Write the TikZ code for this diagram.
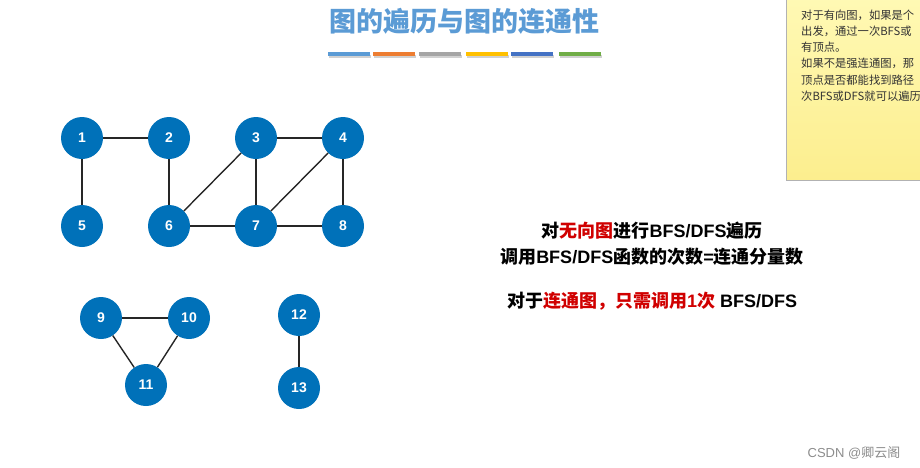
\documentclass[tikz,border=0pt]{standalone}
\usepackage{fontspec}
\setmainfont{Liberation Sans}
\newfontfamily\cjk{Noto Sans CJK SC}
\usepackage{xcolor}
\usepackage{tikz}
\usetikzlibrary{positioning, calc}
\definecolor{vertexblue}{HTML}{0071B9}
\definecolor{titleblue}{HTML}{5B9BD5}
\definecolor{txtred}{HTML}{D00000}
\definecolor{notetop}{HTML}{FFF9B4}
\definecolor{notebot}{HTML}{FCEE8E}
\definecolor{notetext}{HTML}{333333}
\definecolor{barA}{HTML}{5B9BD5}
\definecolor{barB}{HTML}{ED7D31}
\definecolor{barC}{HTML}{A5A5A5}
\definecolor{barD}{HTML}{FFC000}
\definecolor{barE}{HTML}{4472C4}
\definecolor{barF}{HTML}{70AD47}
\tikzset{
  vertex/.style={
    circle,
    fill=vertexblue,
    draw=none,
    minimum size=42pt,
    inner sep=0pt,
    text=white,
    font=\bfseries\fontsize{14}{14}\selectfont
  },
  edge/.style={
    line width=1.4pt,
    color=black!85
  },
  bigtext/.style={
    font=\bfseries\fontsize{18}{22}\selectfont,
    text=black,
    anchor=center
  },
  notetxt/.style={
    font=\cjk\fontsize{11.3}{16.2}\selectfont,
    text=notetext,
    align=left,
    anchor=north west,
    inner sep=0pt
  }
}

\begin{document}
\begin{tikzpicture}[x=1pt, y=-1pt]
  \useasboundingbox (0,0) rectangle (920,467);

  % Title
  \node[font=\cjk\bfseries\fontsize{27}{30}\selectfont, text=titleblue] (title) at (464,21) {图的遍历与图的连通性};
  \foreach \x/\c in {328/barA, 373/barB, 419/barC, 466/barD, 511/barE, 559/barF} {
    \fill[black!18] (\x+1,54.5) rectangle (\x+43,57.5);
    \fill[\c] (\x,51.5) rectangle (\x+42,56);
  }

  % Note
  \begin{scope}
    \clip (0,0) rectangle (920,467);
    \shade[top color=notetop, bottom color=notebot, draw=black!30] (786,-2) rectangle (930,180);
    \node[notetxt] (note) at (801,9.5) {对于有向图，如果是个\\出发，通过一次BFS或\\有顶点。\\如果不是强连通图，那\\顶点是否都能找到路径\\次BFS或DFS就可以遍历};
  \end{scope}

  % Graph
  \node[vertex] (v1) at (82,138) {1};
  \node[vertex] (v2) at (169,138) {2};
  \node[vertex] (v3) at (256,138) {3};
  \node[vertex] (v4) at (343,138) {4};
  \node[vertex] (v5) at (82,226) {5};
  \node[vertex] (v6) at (169,226) {6};
  \node[vertex] (v7) at (256,226) {7};
  \node[vertex] (v8) at (343,226) {8};
  \node[vertex] (v9) at (101,318) {9};
  \node[vertex] (v10) at (189,318) {10};
  \node[vertex] (v11) at (146,385) {11};
  \node[vertex] (v12) at (299,315) {12};
  \node[vertex] (v13) at (299,388) {13};

  \foreach \a/\b in {v1/v2, v1/v5, v2/v6, v3/v4, v3/v6, v3/v7, v4/v7, v4/v8, v6/v7, v7/v8, v9/v10, v9/v11, v10/v11, v12/v13}
    \draw[edge] (\a) -- (\b);

  % Text
  \node[bigtext] (line1) at (652,231) {{\cjk 对}\textcolor{txtred}{\cjk 无向图}{\cjk 进行}BFS/DFS{\cjk 遍历}};
  \node[bigtext] (line2) at (652,257) {{\cjk 调用}BFS/DFS{\cjk 函数的次数}={\cjk 连通分量数}};
  \node[bigtext] (line3) at (652,301) {{\cjk 对于}\textcolor{txtred}{\cjk 连通图，只需调用}\textcolor{txtred}{1}\textcolor{txtred}{\cjk 次} BFS/DFS};

  % Watermark
  \node[font=\fontsize{13}{13}\selectfont, text=black!45] (mark) at (854,453) {CSDN @{\cjk 卿云阁}};
\end{tikzpicture}
\end{document}
